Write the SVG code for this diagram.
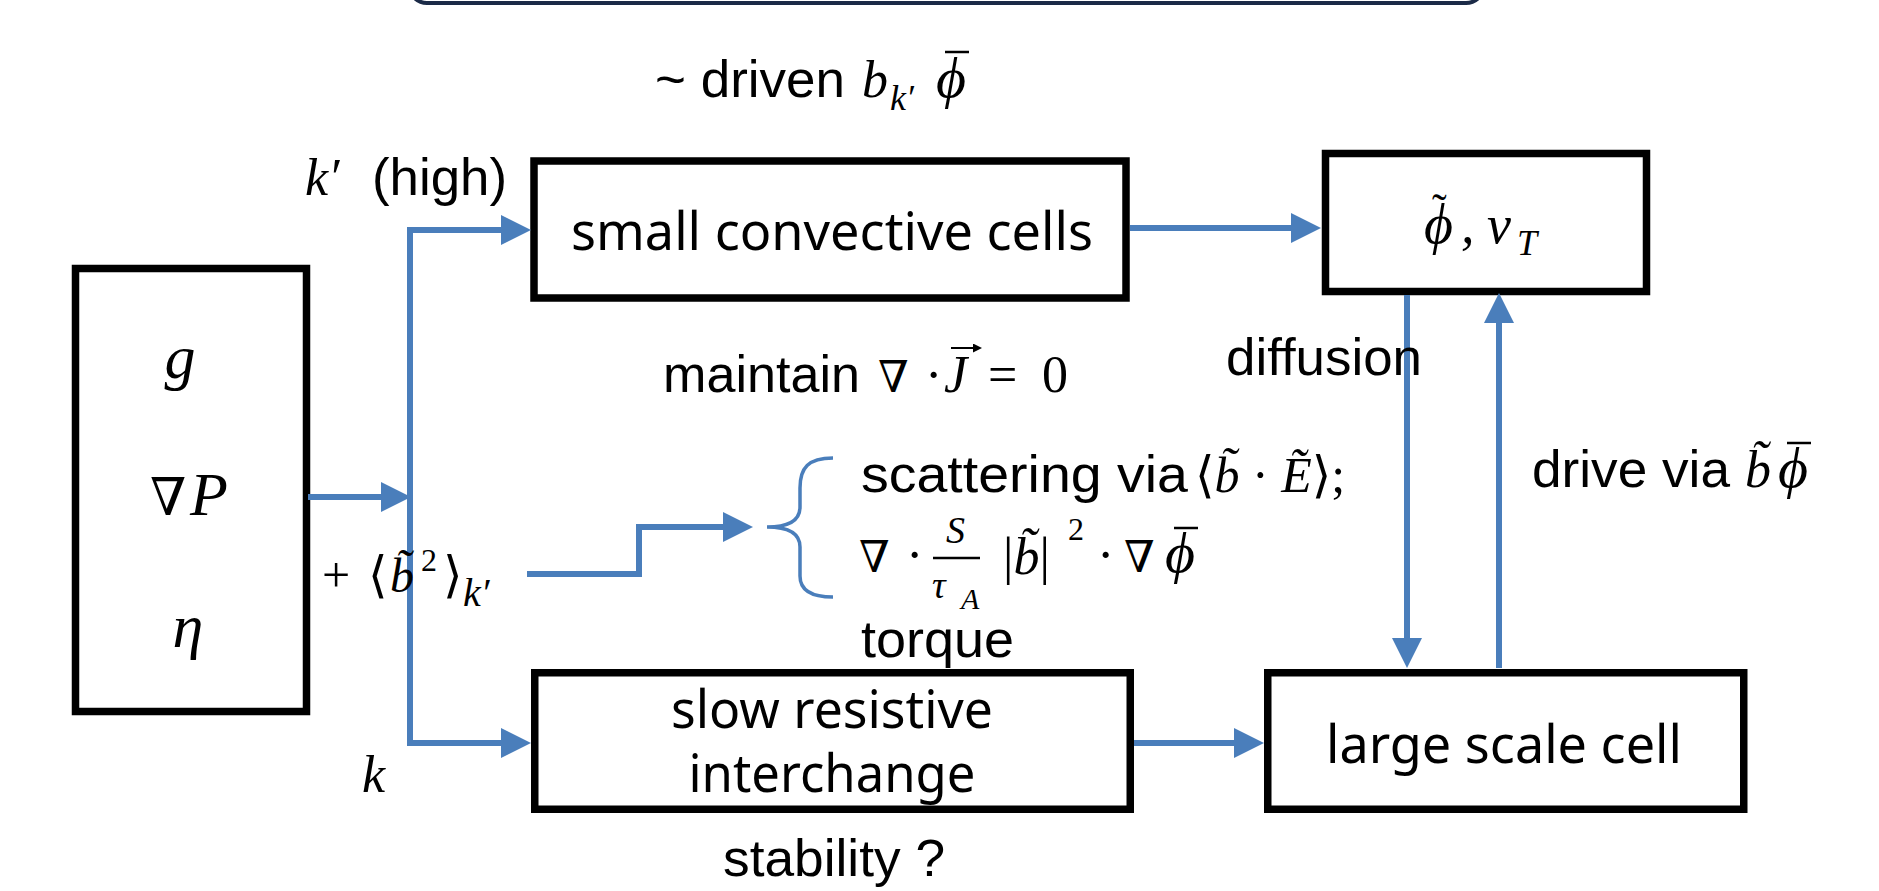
<svg xmlns="http://www.w3.org/2000/svg" width="1879" height="891" viewBox="0 0 1879 891">
<style>
.box{fill:#fff;stroke:#000;stroke-width:7.5;stroke-linejoin:miter}
.con{fill:none;stroke:#4A7EBB;stroke-width:6;stroke-linejoin:miter}
.s{font-family:"Liberation Sans",Arial,sans-serif;fill:#000}
.k{font-family:"Noto Sans","Open Sans",sans-serif;fill:#000}
.m{font-family:"Liberation Serif","DejaVu Serif",serif;font-style:italic;fill:#000}
.u{font-family:"Liberation Serif","DejaVu Serif",serif;fill:#000}
.n{font-family:"DejaVu Serif","Liberation Serif",serif;font-style:italic;fill:#000}
.bar{stroke:#000;stroke-width:2.5}
</style>
<defs>
<marker id="ah" markerUnits="userSpaceOnUse" markerWidth="30" markerHeight="30" refX="0" refY="15" orient="auto"><path d="M0,0 L30,15 L0,30 z" fill="#4A7EBB"/></marker>
<marker id="vec" markerUnits="userSpaceOnUse" markerWidth="9" markerHeight="9" refX="1" refY="4.5" orient="auto"><path d="M0,0 L9,4.5 L0,9 z" fill="#000"/></marker>
</defs>
<rect x="409" y="-40" width="1075" height="43" rx="18" fill="#fff" stroke="#1b2a47" stroke-width="4"/>

<g id="n-sources">
<rect class="box" x="75.5" y="268.5" width="231" height="443"/>
<text class="m" x="180" y="378" font-size="62" text-anchor="middle">g</text>
<text class="n" x="150" y="515" font-size="52">∇</text>
<text class="m" x="190" y="515" font-size="62">P</text>
<text class="m" x="188" y="647" font-size="62" text-anchor="middle">η</text>
</g>
<g id="n-small">
<rect class="box" x="534" y="161" width="592" height="137"/>
<text class="k" x="832" y="250" font-size="52" text-anchor="middle" textLength="522" lengthAdjust="spacingAndGlyphs">small convective cells</text>
</g>
<g id="n-phi">
<rect class="box" x="1325.5" y="153.5" width="321" height="138"/>
<text class="m" x="1424" y="243" font-size="56">ϕ<tspan class="u" font-style="normal" x="1432" y="224" font-size="44">˜</tspan></text>
<text class="m" x="1461" y="243" font-size="54">,</text>
<text class="m" x="1487" y="243" font-size="54">ν</text>
<text class="m" x="1517" y="255" font-size="36">T</text>
</g>
<g id="n-slow">
<rect class="box" x="534.75" y="672.75" width="595.5" height="136.5"/>
<text class="k" x="832" y="728" font-size="52" text-anchor="middle" textLength="322" lengthAdjust="spacingAndGlyphs">slow resistive</text>
<text class="k" x="832" y="792" font-size="52" text-anchor="middle" textLength="287" lengthAdjust="spacingAndGlyphs">interchange</text>
</g>
<g id="n-large">
<rect class="box" x="1267.75" y="672.75" width="476" height="136.5"/>
<text class="k" x="1504" y="763" font-size="52" text-anchor="middle" textLength="356" lengthAdjust="spacingAndGlyphs">large scale cell</text>
</g>

<g id="connectors">
<path class="con" d="M308,497 H381" marker-end="url(#ah)"/>
<path class="con" d="M410,497 V230 H501" marker-end="url(#ah)"/>
<path class="con" d="M410,497 V743 H501" marker-end="url(#ah)"/>
<path class="con" d="M1130,228 H1291" marker-end="url(#ah)"/>
<path class="con" d="M1407,295 V638" marker-end="url(#ah)"/>
<path class="con" d="M1499,668 V323" marker-end="url(#ah)"/>
<path class="con" d="M1134,743 H1234" marker-end="url(#ah)"/>
<path class="con" d="M527,574 H639 V527 H723" marker-end="url(#ah)"/>
<path d="M833,458 C808,458 800,468 800,488 V507 C800,520 790,527 767,527 C790,527 800,534 800,547 V576 C800,588 808,597 833,597" fill="none" stroke="#4A7EBB" stroke-width="3.5"/>
</g>

<g id="labels">
<text class="s" x="655" y="97" font-size="52" textLength="190" lengthAdjust="spacingAndGlyphs">~ driven</text>
<text class="m" x="862" y="97" font-size="52">b</text>
<text class="m" x="890" y="110" font-size="36">k′</text>
<text class="m" x="936" y="97" font-size="58">ϕ</text>
<line class="bar" x1="945" y1="52" x2="969" y2="52"/>

<text class="m" x="305" y="195" font-size="52">k′</text>
<text class="s" x="372" y="195" font-size="52" textLength="135" lengthAdjust="spacingAndGlyphs">(high)</text>

<text class="u" x="322" y="592" font-size="50">+</text>
<text class="u" x="368" y="592" font-size="50">⟨</text>
<text class="m" x="390" y="592" font-size="48">b̃</text>
<text class="u" x="421" y="571" font-size="32">2</text>
<text class="u" x="443" y="592" font-size="50">⟩</text>
<text class="m" x="463" y="606" font-size="40">k′</text>

<text class="m" x="362" y="792" font-size="52">k</text>

<text class="s" x="663" y="392" font-size="52" textLength="197" lengthAdjust="spacingAndGlyphs">maintain</text>
<text class="n" x="878" y="392" font-size="44">∇</text>
<text class="u" x="925" y="392" font-size="52">·</text>
<text class="m" x="944" y="392" font-size="52">J</text>
<line x1="951" y1="348" x2="974" y2="348" stroke="#000" stroke-width="2" marker-end="url(#vec)"/>
<text class="u" x="988" y="392" font-size="52">=</text>
<text class="u" x="1042" y="392" font-size="52">0</text>

<text class="s" x="1226" y="375" font-size="52" textLength="196" lengthAdjust="spacingAndGlyphs">diffusion</text>

<text class="s" x="861" y="492" font-size="52" textLength="327" lengthAdjust="spacingAndGlyphs">scattering via</text>
<text class="u" x="1195" y="492" font-size="50">⟨<tspan font-style="italic">b̃</tspan> · <tspan font-style="italic">Ẽ</tspan>⟩;</text>

<text class="n" x="859" y="572" font-size="44">∇</text>
<text class="u" x="906" y="572" font-size="52">·</text>
<text class="m" x="946" y="543" font-size="38">S</text>
<line class="bar" x1="933" y1="558" x2="980" y2="558"/>
<text class="m" x="932" y="598" font-size="38">τ</text>
<text class="m" x="961" y="609" font-size="30">A</text>
<text class="u" x="1003" y="574" font-size="52">|<tspan font-style="italic">b̃</tspan>|</text>
<text class="u" x="1068" y="540" font-size="32">2</text>
<text class="u" x="1097" y="572" font-size="52">·</text>
<text class="n" x="1124" y="572" font-size="44">∇</text>
<text class="m" x="1165" y="572" font-size="58">ϕ</text>
<line class="bar" x1="1174" y1="528" x2="1198" y2="528"/>

<text class="s" x="861" y="657" font-size="52" textLength="153" lengthAdjust="spacingAndGlyphs">torque</text>

<text class="s" x="1532" y="487" font-size="52" textLength="198" lengthAdjust="spacingAndGlyphs">drive via</text>
<text class="m" x="1745" y="487" font-size="52">b̃</text>
<text class="m" x="1778" y="487" font-size="58">ϕ</text>
<line class="bar" x1="1787" y1="443" x2="1811" y2="443"/>

<text class="s" x="723" y="876" font-size="52" textLength="222" lengthAdjust="spacingAndGlyphs">stability ?</text>
</g>
</svg>
